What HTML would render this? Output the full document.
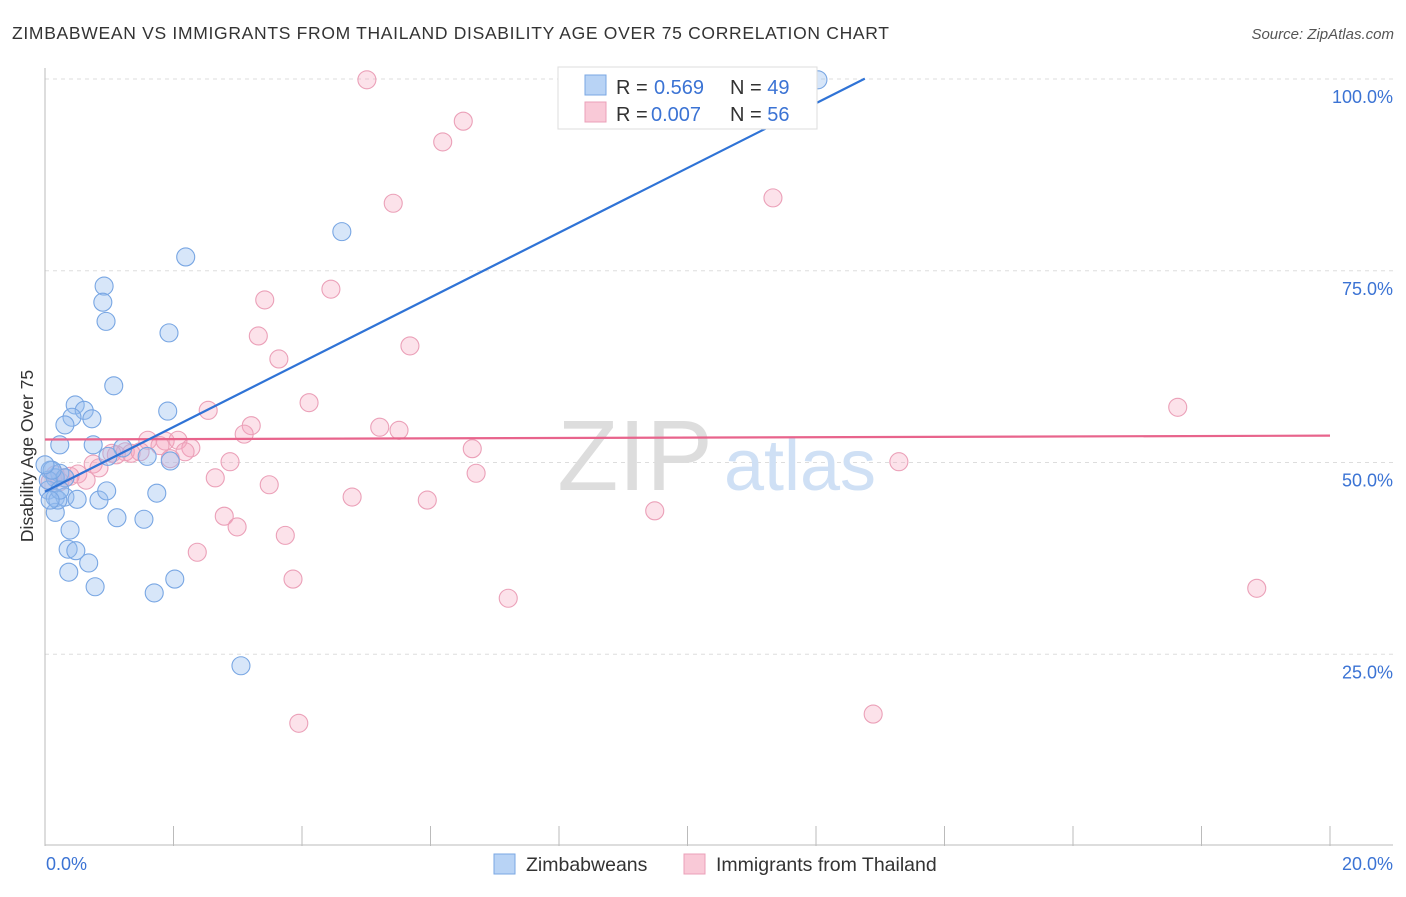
<!DOCTYPE html>
<html><head><meta charset="utf-8"><style>
body{margin:0;background:#fff;font-family:"Liberation Sans",sans-serif}
svg text{font-family:"Liberation Sans",sans-serif}
</style></head><body>
<svg width="1406" height="892" viewBox="0 0 1406 892">
<text x="12" y="39" font-size="17.5" fill="#333" textLength="877" lengthAdjust="spacing">ZIMBABWEAN VS IMMIGRANTS FROM THAILAND DISABILITY AGE OVER 75 CORRELATION CHART</text>
<text x="1394" y="39" font-size="15" fill="#555" font-style="italic" text-anchor="end">Source: ZipAtlas.com</text>
<g id="grid"></g>
<g><text x="635" y="490" font-size="100" fill="#ddd" font-family="Liberation Serif" text-anchor="middle">ZIP</text><text x="800" y="490" font-size="72" fill="#cfe0f5" text-anchor="middle">atlas</text></g>
<line x1="45" y1="68" x2="45" y2="846" stroke="#bbb"/>
<line x1="45" y1="845" x2="1393" y2="845" stroke="#bbb"/>
<g id="ticks"></g>
<text x="46" y="870" font-size="18" fill="#3b73d4">0.0%</text>
<text x="1393" y="870" font-size="18" fill="#3b73d4" text-anchor="end">20.0%</text>
<text transform="translate(33,456) rotate(-90)" font-size="17.5" fill="#333" text-anchor="middle">Disability Age Over 75</text>
<g id="pink"></g>
<g id="blue"></g>
<g id="trends"></g>
<g>
<rect x="558" y="67" width="259" height="62" fill="#fff" stroke="#ddd"/>
<rect x="585" y="75" width="21" height="20" fill="#b8d3f5" stroke="#7aa7e3"/>
<rect x="585" y="102" width="21" height="20" fill="#f9c9d7" stroke="#eba0b8"/>
<text x="616" y="94" font-size="20" fill="#333">R = <tspan x="654" fill="#3b73d4">0.569</tspan><tspan x="730">N = </tspan><tspan fill="#3b73d4">49</tspan></text>
<text x="616" y="121" font-size="20" fill="#333">R = <tspan x="651" fill="#3b73d4">0.007</tspan><tspan x="730">N = </tspan><tspan fill="#3b73d4">56</tspan></text>
</g>
<g>
<rect x="494" y="854" width="21" height="20" fill="#b8d3f5" stroke="#7aa7e3"/>
<text x="526" y="871" font-size="19.5" fill="#333">Zimbabweans</text>
<rect x="684" y="854" width="21" height="20" fill="#f9c9d7" stroke="#eba0b8"/>
<text x="716" y="871" font-size="19.5" fill="#333">Immigrants from Thailand</text>
</g>
</svg>
<script>
const yTicks=[25,50,75,100];
const yTickLabels=["25.0%","50.0%","75.0%","100.0%"];
const xTicks=[0,2,4,6,8,10,12,14,16,18,20];
const blueX=[12.03,4.62,2.19,0.92,0.90,0.95,1.93,1.07,0.47,0.61,0.42,0.73,0.31,1.91,0.23,0.75,1.21,0.98,1.59,1.95,0.08,0.23,0.16,0.31,0.05,0.16,0.31,0.50,0.84,0.96,1.74,0.16,0.39,0.36,0.48,0.68,0.37,0.78,1.12,1.54,1.70,2.02,3.05,0.05,0.11,0.0,0.20,0.23,0.08];
const blueY=[99.9,80.1,76.8,73.0,70.9,68.4,66.9,60.0,57.5,56.8,55.9,55.7,54.9,56.7,52.3,52.3,51.9,50.8,50.8,50.2,49.0,48.6,48.0,48.0,46.4,45.4,45.5,45.2,45.1,46.3,46.0,43.5,41.2,38.7,38.5,36.9,35.7,33.8,42.8,42.6,33.0,34.8,23.5,47.7,49.0,49.7,45.1,46.4,45.1];
const pinkX=[5.01,6.51,6.19,11.33,5.42,3.42,4.45,3.32,3.64,5.68,4.11,2.54,17.63,5.21,5.51,3.21,3.10,6.65,1.60,1.87,2.07,1.79,2.27,2.18,1.25,1.34,1.11,1.04,1.95,0.75,0.84,2.88,13.29,6.71,0.51,0.31,0.64,0.23,2.65,3.49,4.78,5.95,2.79,2.99,3.74,2.37,9.49,3.86,7.21,18.86,3.95,12.89,0.16,0.39,0.08,1.48];
const pinkY=[99.9,94.5,91.8,84.5,83.8,71.2,72.6,66.5,63.5,65.2,57.8,56.8,57.2,54.6,54.2,54.8,53.7,51.8,52.9,52.8,52.9,52.2,51.9,51.4,51.4,51.2,51.0,51.2,50.5,49.8,49.3,50.1,50.1,48.6,48.5,48.0,47.7,47.5,48.0,47.1,45.5,45.1,43.0,41.6,40.5,38.3,43.7,34.8,32.3,33.6,16.0,17.2,48.4,48.2,47.5,51.4];
const blueTrend=[46.2,4.22];
const blueTrendEnd=[0,12.76];
const pinkTrend=[53.0,0.025];
const pinkTrendEnd=[0,20];
const NS='http://www.w3.org/2000/svg';
const sx=v=>45+v*64.25, sy=v=>846-v*7.67;
function mk(tag,attrs,parent){const e=document.createElementNS(NS,tag);for(const k in attrs)e.setAttribute(k,attrs[k]);parent.appendChild(e);return e;}
const grid=document.getElementById('grid');
yTicks.forEach((t,i)=>{
 const l=mk('line',{x1:45,x2:1393,y1:sy(t),y2:sy(t),stroke:'#ddd','stroke-dasharray':'4,4'},grid);
 
 
 const tx=mk('text',{x:1393,y:sy(t)+24,'font-size':18,fill:'#3b73d4','text-anchor':'end'},grid);
 tx.textContent=yTickLabels[i];
 
 
});
const tk=document.getElementById('ticks');
xTicks.forEach(t=>{
 const l=mk('line',{x1:sx(t),x2:sx(t),y1:826,y2:846,stroke:'#bbb'},tk);
 
 
});
function pts(xs,ys,g,fill,stroke,name){xs.forEach((x,i)=>{
 const c=mk('circle',{cx:sx(x),cy:sy(ys[i]),r:9,fill:fill,stroke:stroke,'stroke-width':1.1},g);
 
 
});}
pts(pinkX,pinkY,document.getElementById('pink'),'rgba(245,165,190,0.32)','#eba0b8','thailand-point');
pts(blueX,blueY,document.getElementById('blue'),'rgba(150,190,240,0.38)','#78a6e3','zimbabwean-point');
const tr=document.getElementById('trends');
function trend(p,e,col,name){
 const l=mk('line',{x1:sx(e[0]),y1:sy(p[0]+p[1]*e[0]),x2:sx(e[1]),y2:sy(p[0]+p[1]*e[1]),stroke:col,'stroke-width':2.2},tr);
 
 
}
trend(pinkTrend,pinkTrendEnd,'#e8648c','thailand-trend-line');
trend(blueTrend,blueTrendEnd,'#2f73d6','zimbabwean-trend-line');
</script>
</body></html>
